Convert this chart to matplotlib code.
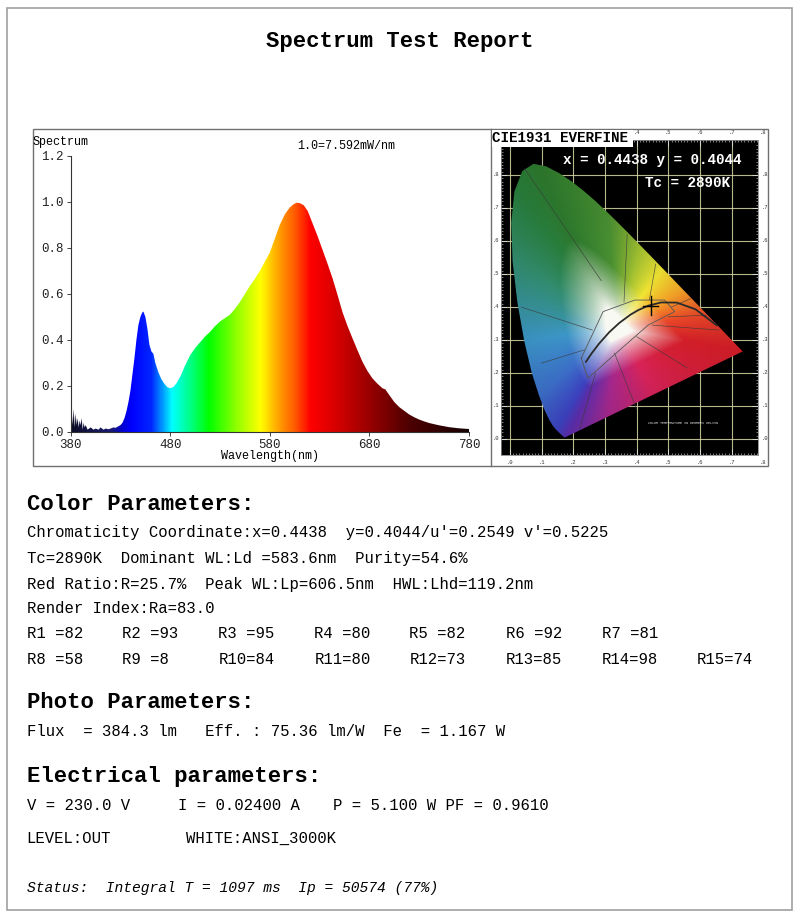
import numpy as np
import matplotlib.pyplot as plt
import matplotlib.transforms as mtransforms
from matplotlib.colors import LinearSegmentedColormap
from matplotlib.patches import Polygon, Rectangle

plt.rcParams['font.family'] = ['Liberation Mono', 'DejaVu Sans Mono']

W, H = 800, 918

# --- spectrum (relative, 1.0 = 7.592 mW/nm) ---
wavelength = [380, 381, 382, 383, 384, 385, 386, 387, 388, 389, 390, 391, 392, 393,
              394, 395, 397, 400, 403, 405, 408, 410, 413, 415, 418, 420, 423, 425,
              428, 430, 432, 434, 436, 438, 440, 442, 444, 446, 448, 450, 452, 453,
              455, 457, 459, 461, 463, 465, 468, 471, 474, 477, 480, 483, 486, 490,
              495, 500, 505, 510, 515, 520, 525, 530, 535, 540, 545, 550, 555, 560,
              565, 570, 575, 580, 585, 590, 595, 600, 604, 607, 610, 614, 618, 623,
              628, 633, 638, 643, 648, 653, 658, 663, 668, 673, 678, 683, 688, 693,
              696, 700, 705, 710, 715, 720, 725, 730, 735, 740, 750, 760, 770, 780]
intensity = [0.0, 0.09, 0.03, 0.10, 0.02, 0.08, 0.03, 0.06, 0.02, 0.05, 0.03, 0.06, 0.01, 0.04,
             0.02, 0.03, 0.01, 0.02, 0.01, 0.015, 0.01, 0.02, 0.01, 0.015, 0.012, 0.015, 0.02, 0.018,
             0.025, 0.03, 0.04, 0.06, 0.09, 0.13, 0.18, 0.25, 0.32, 0.40, 0.465, 0.50, 0.52, 0.523,
             0.50, 0.45, 0.38, 0.35, 0.34, 0.30, 0.26, 0.23, 0.21, 0.195, 0.19, 0.195, 0.21, 0.24,
             0.29, 0.334, 0.365, 0.39, 0.415, 0.435, 0.46, 0.48, 0.495, 0.51, 0.535, 0.565, 0.60, 0.635,
             0.665, 0.70, 0.74, 0.78, 0.84, 0.90, 0.945, 0.975, 0.99, 0.996, 0.994, 0.985, 0.96, 0.905,
             0.85, 0.79, 0.73, 0.667, 0.595, 0.52, 0.46, 0.407, 0.355, 0.305, 0.265, 0.233, 0.21, 0.19,
             0.185, 0.16, 0.13, 0.108, 0.092, 0.076, 0.064, 0.054, 0.046, 0.039, 0.029, 0.021, 0.016, 0.013]

# colours of the fill by wavelength
stop_wl = [380, 400, 420, 432, 440, 460, 470, 481, 500, 518, 545, 570, 590, 605, 620, 645, 680, 720, 780]
stop_rgb = [(0.05, 0.05, 0.15), (0.08, 0.08, 0.3), (0.1, 0.1, 0.45), (0.0, 0.0, 0.85), (0.0, 0.0, 1.0),
            (0.0, 0.15, 1.0), (0.0, 0.55, 1.0), (0.0, 1.0, 1.0), (0.0, 1.0, 0.5), (0.0, 1.0, 0.0),
            (0.55, 1.0, 0.0), (1.0, 1.0, 0.0), (1.0, 0.6, 0.0), (1.0, 0.35, 0.0), (1.0, 0.0, 0.0),
            (0.85, 0.0, 0.0), (0.6, 0.0, 0.0), (0.3, 0.0, 0.0), (0.08, 0.0, 0.0)]

# --- CIE 1931 chart ---
locus_x = [0.1741, 0.1733, 0.1714, 0.1689, 0.1644, 0.1566, 0.1440, 0.1355, 0.1241, 0.1096,
           0.0913, 0.0687, 0.0454, 0.0235, 0.0082, 0.0039, 0.0139, 0.0389, 0.0743, 0.1142,
           0.1547, 0.1929, 0.2296, 0.2658, 0.3016, 0.3373, 0.3731, 0.4087, 0.4441, 0.4788,
           0.5125, 0.5448, 0.5752, 0.6029, 0.6270, 0.6658, 0.6915, 0.7079, 0.7190, 0.7260,
           0.7320, 0.7347]
locus_y = [0.0050, 0.0048, 0.0051, 0.0069, 0.0109, 0.0177, 0.0297, 0.0399, 0.0578, 0.0868,
           0.1327, 0.2007, 0.2950, 0.4127, 0.5384, 0.6548, 0.7502, 0.8120, 0.8338, 0.8262,
           0.8059, 0.7816, 0.7543, 0.7243, 0.6923, 0.6589, 0.6245, 0.5896, 0.5547, 0.5202,
           0.4866, 0.4544, 0.4242, 0.3965, 0.3725, 0.3340, 0.3083, 0.2920, 0.2809, 0.2740,
           0.2680, 0.2653]
planck_x = [0.6528, 0.5857, 0.5267, 0.4770, 0.4369, 0.4053, 0.3805, 0.3451, 0.3135, 0.2807, 0.2565, 0.2399]
planck_y = [0.3444, 0.3931, 0.4133, 0.4137, 0.4041, 0.3907, 0.3768, 0.3516, 0.3237, 0.2884, 0.2577, 0.2341]
white_x = [0.225, 0.294, 0.394, 0.488, 0.520, 0.436, 0.341, 0.246, 0.225]
white_y = [0.245, 0.386, 0.421, 0.421, 0.386, 0.345, 0.265, 0.184, 0.245]
zone_lines = [
    [(0.288, 0.48), (0.046, 0.82)],
    [(0.36, 0.415), (0.37, 0.62)],
    [(0.44, 0.421), (0.46, 0.53)],
    [(0.51, 0.40), (0.57, 0.425)],
    [(0.50, 0.37), (0.62, 0.375)],
    [(0.45, 0.345), (0.66, 0.33)],
    [(0.40, 0.31), (0.56, 0.215)],
    [(0.33, 0.26), (0.40, 0.09)],
    [(0.27, 0.20), (0.22, 0.03)],
    [(0.235, 0.27), (0.10, 0.23)],
    [(0.26, 0.33), (0.035, 0.40)],
]
# colour of the printed chart at its rim, by direction (deg) seen from the white point
rim_angle = [-172.5, -140.4, -122.0, -115.9, -97.0, -60.0, -9.6, 7.7, 29.7, 52.0, 73.5, 95.0,
             117.3, 127.4, 147.8]
rim_rgb = [(60, 150, 200), (60, 110, 200), (60, 65, 190), (90, 45, 170), (165, 40, 140),
           (215, 35, 90), (210, 30, 40), (232, 70, 40), (245, 165, 40), (240, 228, 50),
           (165, 195, 50), (75, 145, 50), (45, 120, 45), (40, 125, 60), (50, 140, 110)]
cie_x, cie_y = 0.4438, 0.4044
tc_k = 2890

# --- report text ---
title = "Spectrum Test Report"
color_lines = ["Chromaticity Coordinate:x=0.4438  y=0.4044/u'=0.2549 v'=0.5225",
               "Tc=2890K  Dominant WL:Ld =583.6nm  Purity=54.6%",
               "Red Ratio:R=25.7%  Peak WL:Lp=606.5nm  HWL:Lhd=119.2nm",
               "Render Index:Ra=83.0"]
r_names = ['R1', 'R2', 'R3', 'R4', 'R5', 'R6', 'R7', 'R8', 'R9', 'R10', 'R11', 'R12', 'R13', 'R14', 'R15']
r_values = [82, 93, 95, 80, 82, 92, 81, 58, 8, 84, 80, 73, 85, 98, 74]
flux_line = "Flux  = 384.3 lm   Eff. : 75.36 lm/W  Fe  = 1.167 W"
elec_parts = ["V = 230.0 V", "I = 0.02400 A", "P = 5.100 W PF = 0.9610"]
level_parts = ["LEVEL:OUT", "WHITE:ANSI_3000K"]
status = "Status:  Integral T = 1097 ms  Ip = 50574 (77%)"


def box(x0, y0, x1, y1):
    return [x0 / W, 1 - y1 / H, (x1 - x0) / W, (y1 - y0) / H]


fig = plt.figure(figsize=(W / 100, H / 100), dpi=100)


def put(x, y, s, **kw):
    fig.text(x / W, 1 - y / H, s, va='center', ha=kw.pop('ha', 'left'), **kw)


# page border
fig.patches.append(Rectangle((6.7 / W, 1 - 910 / H), 785 / W, 902 / H, transform=fig.transFigure,
                             fill=False, ec='#a0a0a0', lw=1.2))
put(400, 41, title, ha='center', fontsize=16, fontweight='bold')

# panel frame
fig.patches.append(Rectangle((32.5 / W, 1 - 465.5 / H), 735.5 / W, 336.5 / H, transform=fig.transFigure,
                             fill=False, ec='#707070', lw=1.0))
fig.lines.append(plt.Line2D([490.8 / W] * 2, [1 - 465.5 / H, 1 - 129 / H], transform=fig.transFigure,
                            color='#707070', lw=1.0))

# spectrum
ax = fig.add_axes(box(70.7, 155.7, 469, 432))
cmap = LinearSegmentedColormap.from_list('spec', [((w - 380) / 400, c) for w, c in zip(stop_wl, stop_rgb)])
grad = np.linspace(380, 780, 800).reshape(1, -1)
im = ax.imshow(grad, extent=[380, 780, 0, 1.2], aspect='auto', cmap=cmap, vmin=380, vmax=780,
               origin='lower', interpolation='bilinear')
poly = Polygon(np.column_stack([wavelength + [780, 380], intensity + [0, 0]]), closed=True,
               fc='none', ec='none')
ax.add_patch(poly)
im.set_clip_path(poly)
ax.set_xlim(380, 780)
ax.set_ylim(0, 1.2)
for s in ['top', 'right']:
    ax.spines[s].set_visible(False)
for s in ['left', 'bottom']:
    ax.spines[s].set_color('#333333')
    ax.spines[s].set_linewidth(0.8)
ax.set_xticks([380, 480, 580, 680, 780])
ax.set_yticks([0, 0.2, 0.4, 0.6, 0.8, 1.0, 1.2])
ax.set_yticklabels(['0.0', '0.2', '0.4', '0.6', '0.8', '1.0', '1.2'])
ax.tick_params(direction='out', length=3, width=0.6, labelsize=9, pad=2, colors='#222222')
put(32.5, 142, 'Spectrum', fontsize=8.5)
put(345.7, 146, '1.0=7.592mW/nm', ha='center', fontsize=8.5)
put(270, 456, 'Wavelength(nm)', ha='center', fontsize=8.5)

# CIE chart
cx = fig.add_axes(box(501, 140, 758, 455))
cx.set_facecolor('black')
for s in cx.spines.values():
    s.set_color('#888888')
    s.set_linewidth(0.6)
cx.set_xticks(np.arange(0, 0.8, 0.1))
cx.set_yticks(np.arange(0, 0.9, 0.1))
cx.set_xticks(np.arange(0, 0.79, 0.01), minor=True)
cx.set_yticks(np.arange(0, 0.9, 0.01), minor=True)
cx.tick_params(which='both', direction='in', colors='#dddddd', labelbottom=False, labelleft=False,
               top=True, right=True)
cx.tick_params(which='major', length=4, width=0.6)
cx.tick_params(which='minor', length=1.5, width=0.4)
cx.grid(True, which='major', color='#d8d8a8', lw=0.8, alpha=0.85)
cx.set_axisbelow(True)

# shading of the horseshoe: white centre fading to the rim colour
wx0, wy0 = 0.34, 0.335
edge_x = np.array(locus_x + list(np.linspace(locus_x[-1], locus_x[0], 40)[1:-1]))
edge_y = np.array(locus_y + list(np.linspace(locus_y[-1], locus_y[0], 40)[1:-1]))
edge_ang = np.arctan2(edge_y - wy0, edge_x - wx0)
edge_dist = np.hypot(edge_x - wx0, edge_y - wy0)
order = np.argsort(edge_ang)
gx = np.linspace(0.0, 0.75, 380)
gy = np.linspace(0.0, 0.85, 430)
XX, YY = np.meshgrid(gx, gy)
ang = np.arctan2(YY - wy0, XX - wx0)
purity = np.hypot(XX - wx0, YY - wy0) / np.interp(ang, edge_ang[order], edge_dist[order], period=2 * np.pi)
mix = np.clip((purity - 0.12) / 0.42, 0, 1) ** 0.8
rim = np.stack([np.interp(np.degrees(ang), rim_angle, [c[k] / 255 for c in rim_rgb], period=360)
                for k in range(3)], -1)
rgb = np.array([0.98, 0.98, 0.96]) * (1 - mix[..., None]) + rim * mix[..., None]
rgb = np.clip(rgb * (1 - 0.1 * np.clip(purity - 0.6, 0, 1))[..., None], 0, 1)
cim = cx.imshow(rgb, extent=[0, 0.75, 0, 0.85], origin='lower', aspect='auto',
                interpolation='bilinear', zorder=2)
horse = Polygon(np.column_stack([locus_x, locus_y]), closed=True, fc='none', ec='none')
cx.add_patch(horse)
cim.set_clip_path(horse)
cx.set_xlim(-0.0284, 0.7831)
cx.set_ylim(-0.0485, 0.906)

for seg in zone_lines:
    cx.plot([p[0] for p in seg], [p[1] for p in seg], color='#3a3a3a', lw=0.5, alpha=0.8, zorder=3)
cx.plot(white_x, white_y, color='#555555', lw=0.6, zorder=3)
cx.plot(planck_x, planck_y, color='#2a2a2a', lw=1.3, zorder=4)
cx.plot([cie_x - 0.025, cie_x + 0.025], [cie_y, cie_y], color='black', lw=1.0, zorder=5)
cx.plot([cie_x, cie_x], [cie_y - 0.028, cie_y + 0.028], color='black', lw=1.0, zorder=5)
cx.text(0.435, 0.045, 'COLOR TEMPERATURE IN DEGREES KELVIN', fontsize=2.4, color='#dddddd',
        ha='left', zorder=5)

# tick labels around the chart
tb = mtransforms.blended_transform_factory(cx.transData, fig.transFigure)
tl = mtransforms.blended_transform_factory(fig.transFigure, cx.transData)
for i in range(9):
    v = i / 10
    cx.text(v, 1 - 463 / H, '.%d' % i, transform=tb, fontsize=4, ha='center', va='center',
            color='#333333', clip_on=False)
    cx.text(496 / W, v, '.%d' % i, transform=tl, fontsize=4, ha='center', va='center',
            color='#333333', clip_on=False)
    cx.text(765 / W, v, '.%d' % i, transform=tl, fontsize=4, ha='center', va='center',
            color='#333333', clip_on=False)
    if i >= 4:
        cx.text(v, 1 - 133 / H, '.%d' % i, transform=tb, fontsize=4, ha='center', va='center',
                color='#333333', clip_on=False)

fig.patches.append(Rectangle((491.5 / W, 1 - 147 / H), 141.5 / W, 17.5 / H, transform=fig.transFigure,
                             fc='white', ec='none', zorder=10))
put(492, 138.5, 'CIE1931 EVERFINE', fontsize=10.3, fontweight='bold', zorder=11)
put(563, 160, 'x = %.4f y = %.4f' % (cie_x, cie_y), fontsize=10.3, fontweight='bold', color='white',
    zorder=11)
put(645, 183, 'Tc = %dK' % tc_k, fontsize=10.3, fontweight='bold', color='white', zorder=11)

# parameters
put(26.7, 504, 'Color Parameters:', fontsize=16, fontweight='bold')
for y, s in zip([533, 558.5, 584, 608.5], color_lines):
    put(26.7, y, s, fontsize=11.25)
r_cols = [26.7, 121.7, 218.3, 314.3, 409.3, 506, 601.7, 696.7]
for i, (n, v) in enumerate(zip(r_names, r_values)):
    row, col = (0, i) if i < 7 else (1, i - 7)
    put(r_cols[col], [634, 659.5][row], '%-3s=%d' % (n, v), fontsize=11.25)

put(26.7, 703, 'Photo Parameters:', fontsize=16, fontweight='bold')
put(26.7, 732, flux_line, fontsize=11.25)

put(26.7, 776.5, 'Electrical parameters:', fontsize=16, fontweight='bold')
for x, s in zip([26.7, 178.3, 333], elec_parts):
    put(x, 806, s, fontsize=11.25)
for x, s in zip([26.7, 185.7], level_parts):
    put(x, 838.5, s, fontsize=11.25)
put(26.7, 888, status, fontsize=10.5, style='italic')

fig.savefig('out.png', dpi=100)
